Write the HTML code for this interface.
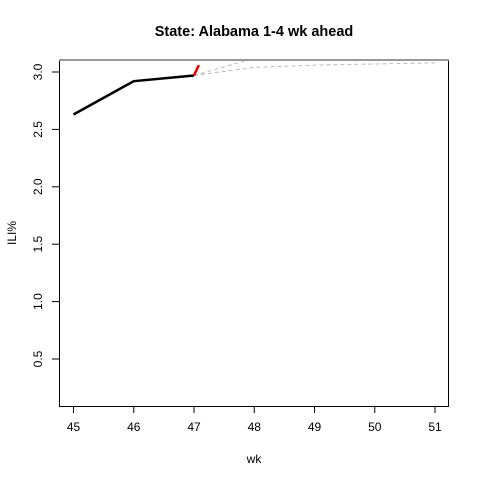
<!DOCTYPE html>
<html><head><meta charset="utf-8"><style>
body{margin:0;background:#fff;}
svg{display:block;font-family:"Liberation Sans",sans-serif;}
</style></head><body>
<svg id="chart" width="480" height="480">
<text x="254" y="36" text-anchor="middle" font-size="14.5" font-weight="bold">State: Alabama 1-4 wk ahead</text>
<text x="254" y="463" text-anchor="middle" font-size="12">wk</text>
<text transform="translate(16,233) rotate(-90)" text-anchor="middle" font-size="12">ILI%</text>
<defs><clipPath id="pc"><rect x="59" y="59" width="390" height="347"/></clipPath></defs>
<g id="xaxis"></g>
<g id="yaxis"></g>
<g id="marks" clip-path="url(#pc)"></g>
<rect x="59.5" y="59.5" width="389" height="347" fill="none" stroke="#000" stroke-width="1"/>
<line x1="59" x2="449" y1="60" y2="60" stroke="#999" stroke-width="2"/>
</svg>
<script>
const xTicks=[45,46,47,48,49,50,51];
const yTicks=[0.5,1.0,1.5,2.0,2.5,3.0];
const obsWeeks=[45,46,47];
const obsVals=[2.63,2.92,2.97];
const fcWeeks=[47,48,49,50,51];
const fcMean=[2.97,3.04,3.06,3.07,3.08];
const fcUpper=[2.97,3.12,3.16,3.18,3.2];
const redWeeks=[47,47.08];
const redVals=[2.97,3.06];
const NS="http://www.w3.org/2000/svg";
const X=w=>73.5+(w-45)*60.25;
const Y=v=>72+(3-v)*114.8;
function el(t,a,p){const e=document.createElementNS(NS,t);for(const k in a)e.setAttribute(k,a[k]);p.appendChild(e);return e;}
const xa=document.getElementById('xaxis'),ya=document.getElementById('yaxis'),mk=document.getElementById('marks');
xTicks.forEach(t=>{
 const l=el('line',{x1:X(t),x2:X(t),y1:406,y2:413,stroke:'#000'},xa);
 
 
 const s=el('text',{x:X(t),y:431,'text-anchor':'middle','font-size':12},xa);s.textContent=t;
 
 
});
yTicks.forEach(t=>{
 const l=el('line',{x1:52,x2:59,y1:Y(t),y2:Y(t),stroke:'#000'},ya);
 
 
 const s=el('text',{x:0,y:0,'text-anchor':'middle','font-size':12,transform:`translate(42,${Y(t)}) rotate(-90)`},ya);s.textContent=t.toFixed(1);
 
 
});
function pts(ws,vs){return ws.map((w,i)=>X(w)+','+Y(vs[i])).join(' ');}
[fcUpper,fcMean].forEach(s=>{
 const p=el('polyline',{points:pts(fcWeeks,s),fill:'none',stroke:'#bbb','stroke-dasharray':'4,3','stroke-width':1},mk);
 
 
});
const o=el('polyline',{points:pts(obsWeeks,obsVals),fill:'none',stroke:'#000','stroke-width':2.5},mk);


const r=el('polyline',{points:pts(redWeeks,redVals),fill:'none',stroke:'#e00','stroke-width':2.5},mk);


</script>
</body></html>
